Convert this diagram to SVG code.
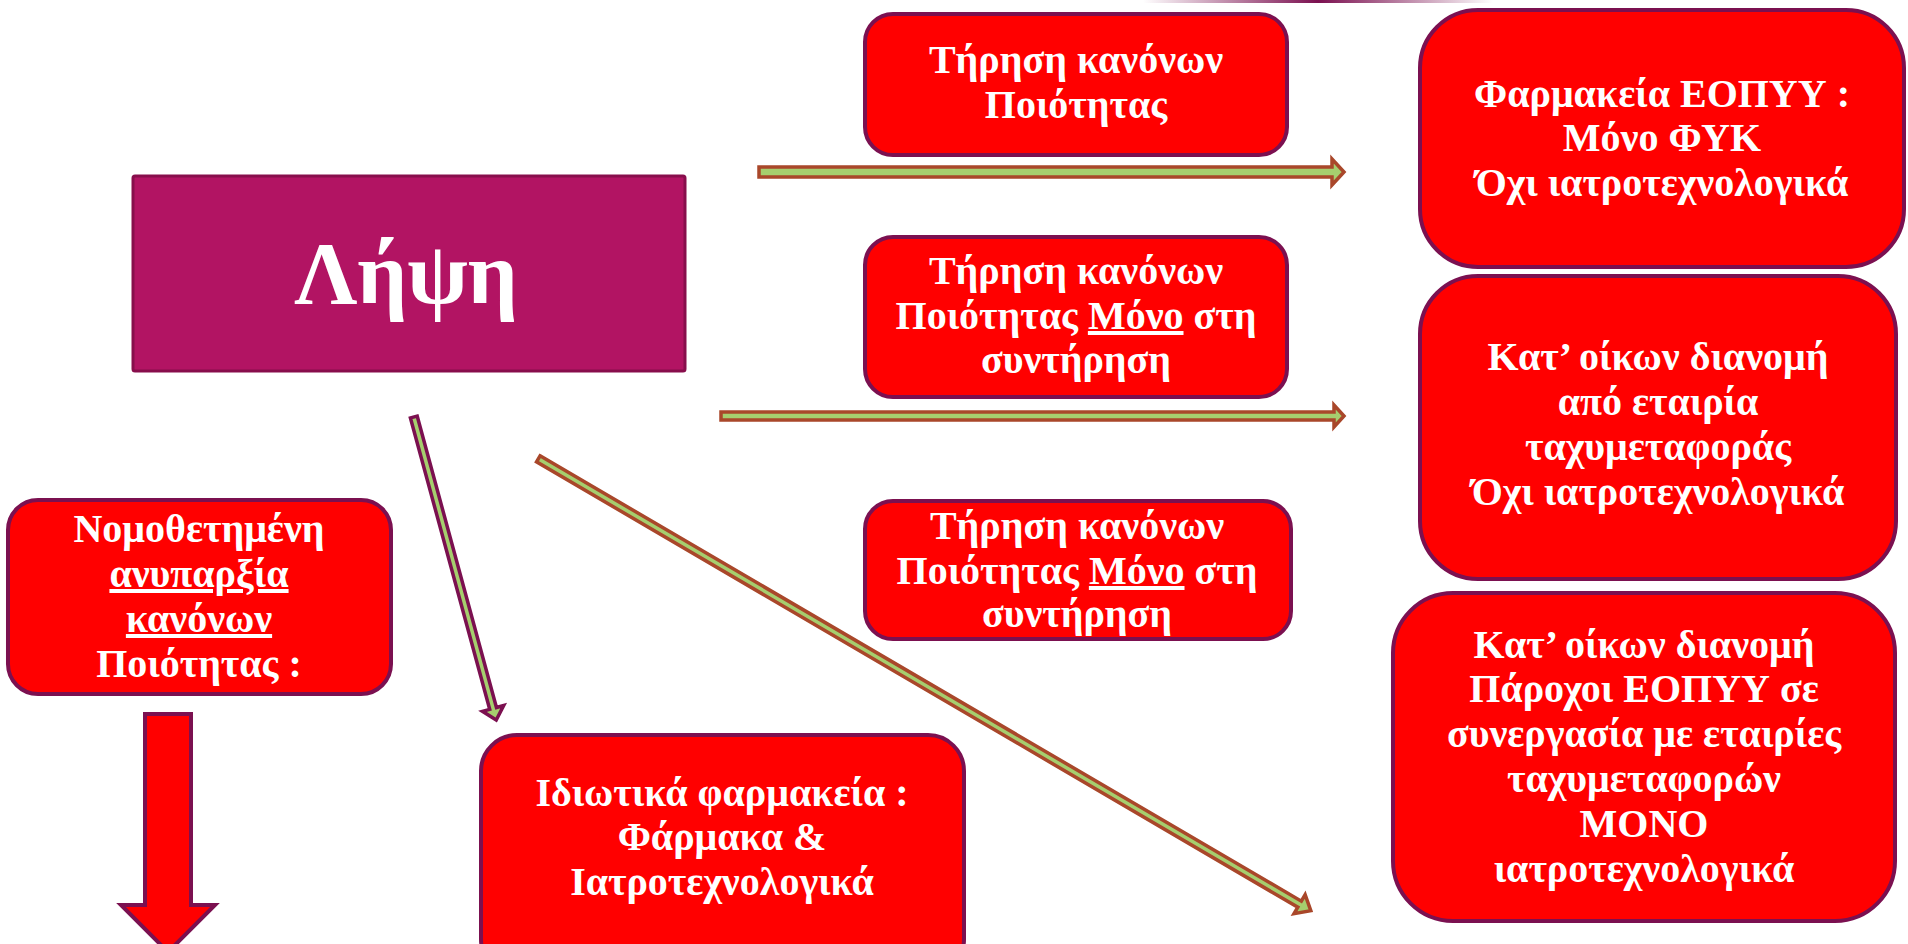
<svg xmlns="http://www.w3.org/2000/svg" width="1908" height="944" viewBox="0 0 1908 944">
<defs>
<linearGradient id="topline" x1="0" y1="0" x2="1" y2="0">
<stop offset="0" stop-color="#7B1050" stop-opacity="0"/>
<stop offset="0.5" stop-color="#7B1050" stop-opacity="1"/>
<stop offset="1" stop-color="#7B1050" stop-opacity="0"/>
</linearGradient>
<style>
.box{fill:#FF0000;stroke:#7B1050;stroke-width:4}
.main{fill:#B21463;stroke:#880E4C;stroke-width:3}
.t{font-family:"Liberation Serif","Times New Roman",serif;font-weight:bold;font-size:40px;fill:#FFFFFF;text-anchor:middle}
.big{font-size:88px}
.arB{fill:#A6CE6E;stroke:#A9472A;stroke-width:3.5;stroke-linejoin:miter}
.arP{fill:#A6CE6E;stroke:#7B1050;stroke-width:3.5;stroke-linejoin:miter}
.red{fill:#FF0000;stroke:#7B1050;stroke-width:4}
.u{text-decoration:underline}
</style>
</defs>
<rect width="1908" height="944" fill="#FFFFFF"/>
<rect x="1143" y="0" width="350" height="3" fill="url(#topline)"/>

<g id="connectors">
<polygon class="arB" points="759,167 1332,167 1332,159 1344,172 1332,185 1332,177 759,177"/>
<polygon class="arB" points="721,412 1334,412 1334,405 1344,416 1334,427 1334,420 721,420"/>
<polygon class="arP" transform="translate(413.8,417) rotate(74.78)" points="0,-3.5 302,-3.5 302,-11 314,0 302,11 302,3.5 0,3.5"/>
<polygon class="arB" transform="translate(538.3,458.8) rotate(30.33)" points="0,-3.5 882,-3.5 882,-11 895,0 882,11 882,3.5 0,3.5"/>
<polygon class="red" points="145,714 191,714 191,905 215,905 168,952 121,905 145,905"/>
</g>

<g id="lipsi">
<rect class="main" x="133" y="176" width="552" height="195" rx="2"/>
<text class="t big" x="406" y="303">Λήψη</text>
</g>

<g id="t1">
<rect class="box" x="865" y="14" width="422" height="141" rx="28"/>
<text class="t" x="1076" y="73">Τήρηση κανόνων</text>
<text class="t" x="1076" y="118">Ποιότητας</text>
</g>

<g id="t2">
<rect class="box" x="865" y="237" width="422" height="160" rx="28"/>
<text class="t" x="1076" y="284">Τήρηση κανόνων</text>
<text class="t" x="1076" y="329">Ποιότητας <tspan class="u">Μόνο</tspan> στη</text>
<text class="t" x="1076" y="373">συντήρηση</text>
</g>

<g id="t3">
<rect class="box" x="865" y="501" width="426" height="138" rx="28"/>
<text class="t" x="1077" y="539">Τήρηση κανόνων</text>
<text class="t" x="1077" y="584">Ποιότητας <tspan class="u">Μόνο</tspan> στη</text>
<text class="t" x="1077" y="627">συντήρηση</text>
</g>

<g id="r1">
<rect class="box" x="1420" y="10" width="484" height="257" rx="58"/>
<text class="t" x="1662" y="107">Φαρμακεία ΕΟΠΥΥ :</text>
<text class="t" x="1662" y="151">Μόνο ΦΥΚ</text>
<text class="t" x="1662" y="196">Όχι ιατροτεχνολογικά</text>
</g>

<g id="r2">
<rect class="box" x="1420" y="276" width="476" height="303" rx="58"/>
<text class="t" x="1658" y="370">Κατ’ οίκων διανομή</text>
<text class="t" x="1658" y="415">από εταιρία</text>
<text class="t" x="1658" y="460">ταχυμεταφοράς</text>
<text class="t" x="1658" y="505">Όχι ιατροτεχνολογικά</text>
</g>

<g id="r3">
<rect class="box" x="1393" y="593" width="502" height="328" rx="60"/>
<text class="t" x="1644" y="658">Κατ’ οίκων διανομή</text>
<text class="t" x="1644" y="702">Πάροχοι ΕΟΠΥΥ σε</text>
<text class="t" x="1644" y="747">συνεργασία με εταιρίες</text>
<text class="t" x="1644" y="792">ταχυμεταφορών</text>
<text class="t" x="1644" y="837">ΜΟΝΟ</text>
<text class="t" x="1644" y="882">ιατροτεχνολογικά</text>
</g>

<g id="l1">
<rect class="box" x="8" y="500" width="383" height="194" rx="30"/>
<text class="t" x="199" y="542">Νομοθετημένη</text>
<text class="t u" x="199" y="587">ανυπαρξία</text>
<text class="t u" x="199" y="632">κανόνων</text>
<text class="t" x="199" y="677">Ποιότητας :</text>
</g>

<g id="b1">
<rect class="box" x="481" y="735" width="483" height="240" rx="36"/>
<text class="t" x="722" y="806">Ιδιωτικά φαρμακεία :</text>
<text class="t" x="722" y="850">Φάρμακα &amp;</text>
<text class="t" x="722" y="895">Ιατροτεχνολογικά</text>
</g>
</svg>
